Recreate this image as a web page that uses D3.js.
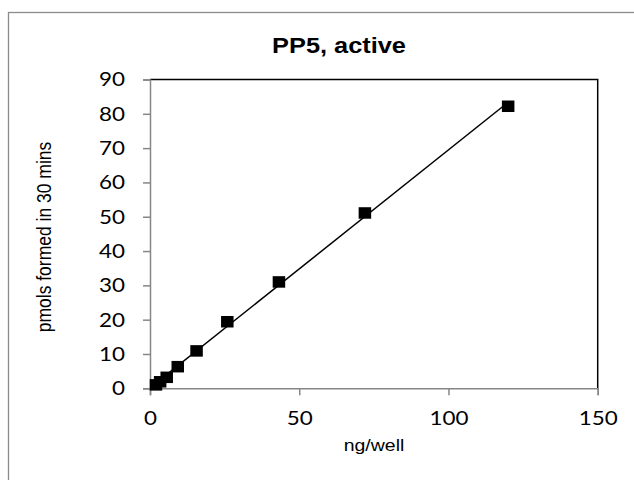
<!DOCTYPE html>
<html><head><meta charset="utf-8">
<script src="https://cdn.jsdelivr.net/npm/d3@7/dist/d3.min.js"></script>
<style>body{margin:0;background:#fff}svg{display:block}</style>
</head><body>
<svg id="c" width="634" height="480"></svg>
<script>
const title = "PP5, active";
const xLabel = "ng/well";
const yLabel = "pmols formed in 30 mins";
const ngPerWell = [120, 72, 43.2, 25.9, 15.6, 9.3, 5.6, 3.4, 2.0];
const pmols = [82.2, 51.1, 31.0, 19.4, 10.9, 6.3, 3.2, 1.9, 1.0];
const xTicks = [0, 50, 100, 150];
const yTicks = [0, 10, 20, 30, 40, 50, 60, 70, 80, 90];

const SX = 1.18; // horizontal stretch of the original picture
const svg = d3.select("#c");
const L = 150, R = 597.7, T = 79.5, B = 388.3;
const x = d3.scaleLinear().domain([0, 150]).range([L, R]);
const y = d3.scaleLinear().domain([0, 90]).range([B, T]);

svg.append("rect").attr("x", 8.5).attr("y", 12.5).attr("width", 700).attr("height", 600)
  .attr("fill", "#fff").attr("stroke", "#8c8c8c").attr("stroke-width", 1.3);

svg.append("path").attr("d", `M${L},${T}H${R}V${B}`).attr("fill", "none")
  .attr("stroke", "#000").attr("stroke-width", 1.5);

const tickFont = "Lato, 'Open Sans', sans-serif";
const xa = svg.append("g").attr("transform", `translate(0,${B})`)
  .call(d3.axisBottom(x).tickValues(xTicks).tickSize(7).tickFormat(d3.format("d")));
const ya = svg.append("g").attr("transform", `translate(${L},0)`)
  .call(d3.axisLeft(y).tickValues(yTicks).tickSize(7).tickFormat(d3.format("d")));
[xa, ya].forEach(a => {
  a.select(".domain").attr("stroke", "#868686").attr("stroke-width", 1.5);
  a.selectAll(".tick line").attr("stroke", "#868686").attr("stroke-width", 1.5);
  a.selectAll(".tick text").attr("fill", "#000").style("font-family", tickFont).style("font-size", "19px");
});
xa.selectAll(".tick text").attr("x", null).attr("y", null).attr("dy", "0.71em")
  .attr("transform", `translate(0,23) scale(${SX},1)`);
ya.selectAll(".tick text").attr("x", null).attr("dy", "0.34em")
  .attr("transform", `translate(-25,0) scale(${SX},1)`);

// linear trendline (least squares through the data)
const mx = d3.mean(ngPerWell), my = d3.mean(pmols);
const slope = d3.sum(ngPerWell.map((v, i) => (v - mx) * (pmols[i] - my))) / d3.sum(ngPerWell.map(v => (v - mx) ** 2));
const icpt = my - slope * mx;
const xr = d3.extent(ngPerWell);
svg.append("line").attr("x1", x(xr[0])).attr("y1", y(icpt + slope * xr[0]))
  .attr("x2", x(xr[1])).attr("y2", y(icpt + slope * xr[1]))
  .attr("stroke", "#000").attr("stroke-width", 1.5);

const mw = 12.5, mh = 11.5;
svg.append("g").selectAll("rect").data(ngPerWell.map((v, i) => [v, pmols[i]])).join("rect")
  .attr("x", d => x(d[0]) - mw / 2).attr("y", d => y(d[1]) - mh / 2)
  .attr("width", mw).attr("height", mh).attr("fill", "#000");

const arial = "'Liberation Sans', Arial, sans-serif";
svg.append("text").attr("transform", `translate(339,53) scale(${SX},1)`).attr("text-anchor", "middle")
  .style("font-family", arial).style("font-weight", "bold").style("font-size", "21.5px")
  .text(title);
svg.append("text").attr("transform", `translate(374,451) scale(${SX},1)`).attr("text-anchor", "middle")
  .style("font-family", arial).style("font-size", "16.5px")
  .text(xLabel);
svg.append("text").attr("transform", `translate(51,237) scale(${SX},1) rotate(-90)`).attr("text-anchor", "middle")
  .style("font-family", arial).style("font-size", "17.5px")
  .text(yLabel);
</script>
</body></html>
